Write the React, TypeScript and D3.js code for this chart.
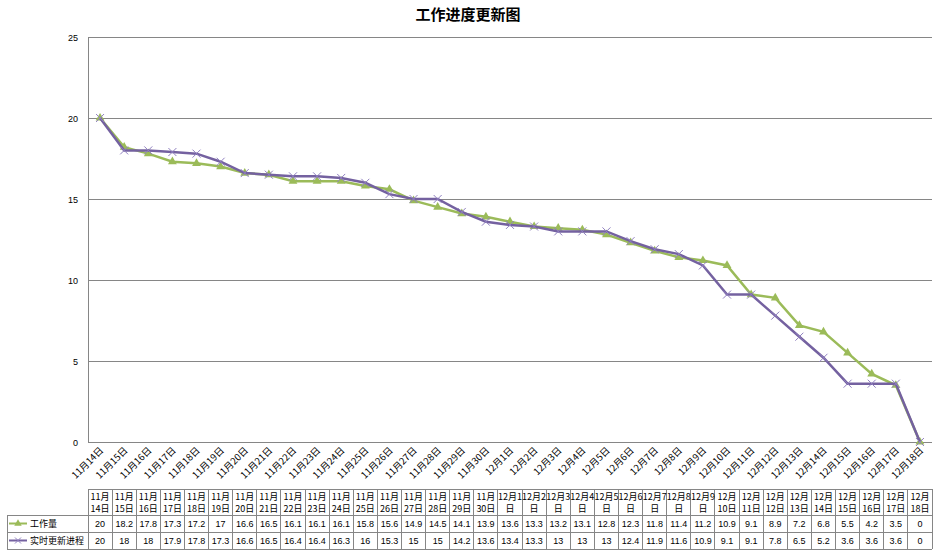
import React from "react";
import * as d3 from "d3";

// categories (axis labels)
const categories = [
  "11月14日", "11月15日", "11月16日", "11月17日", "11月18日", "11月19日", "11月20日",
  "11月21日", "11月22日", "11月23日", "11月24日", "11月25日", "11月26日", "11月27日",
  "11月28日", "11月29日", "11月30日", "12月1日", "12月2日", "12月3日", "12月4日",
  "12月5日", "12月6日", "12月7日", "12月8日", "12月9日", "12月10日", "12月11日",
  "12月12日", "12月13日", "12月14日", "12月15日", "12月16日", "12月17日", "12月18日",
];

// 工作量
const workload = [
  20, 18.2, 17.8, 17.3, 17.2, 17, 16.6, 16.5, 16.1, 16.1, 16.1, 15.8, 15.6, 14.9, 14.5,
  14.1, 13.9, 13.6, 13.3, 13.2, 13.1, 12.8, 12.3, 11.8, 11.4, 11.2, 10.9, 9.1, 8.9, 7.2,
  6.8, 5.5, 4.2, 3.5, 0,
];

// 实时更新进程
const actual = [
  20, 18, 18, 17.9, 17.8, 17.3, 16.6, 16.5, 16.4, 16.4, 16.3, 16, 15.3, 15, 15, 14.2,
  13.6, 13.4, 13.3, 13, 13, 13, 12.4, 11.9, 11.6, 10.9, 9.1, 9.1, 7.8, 6.5, 5.2, 3.6,
  3.6, 3.6, 0,
];

const yTicks = [0, 5, 10, 15, 20, 25];

const seriesNames = ["工作量", "实时更新进程"];

const WIDTH = 937;
const HEIGHT = 554;
const GREEN = "#9BBB59";
const PURPLE = "#7461A0";
const CROSS = "#9080c0";
const GRID = "#868686";
const CJK = "'Noto Sans CJK SC', 'Liberation Sans', sans-serif";
const NUM = "'Liberation Sans', Arial, sans-serif";

const plot = { left: 88, right: 932, top: 37, bottom: 442 };
const table = { headTop: 489, row1: 515, row2: 532, bottom: 549, legendLeft: 7 };

// Excel wraps the header text by column width
const wrapHeader = (s: string): [string, string] =>
  s.length === 5 ? [s.slice(0, 4), s.slice(4)] : [s.slice(0, 3), s.slice(3)];

const App: React.FC = () => {
  const x = d3
    .scaleBand<string>()
    .domain(categories)
    .range([plot.left, plot.right])
    .padding(0);
  const y = d3.scaleLinear().domain([0, 25]).range([plot.bottom, plot.top]);
  const bw = x.bandwidth();
  const cx = (c: string) => (x(c) ?? 0) + bw / 2;

  const line = d3
    .line<number>()
    .x((_, i) => cx(categories[i]))
    .y((d) => y(d));

  const tri = d3.symbol(d3.symbolTriangle, 34)() ?? "";
  const triSmall = d3.symbol(d3.symbolTriangle, 24)() ?? "";

  const legendMarker = (k: number, yc: number) => {
    const color = k === 0 ? GREEN : PURPLE;
    return (
      <g>
        <line x1={9} x2={27} y1={yc} y2={yc} stroke={color} strokeWidth={2} />
        {k === 0 ? (
          <path d={triSmall} transform={`translate(18,${yc})`} fill={GREEN} />
        ) : (
          <g transform={`translate(18,${yc})`} stroke={CROSS} strokeWidth={1}>
            <line x1={-3} y1={-3} x2={3} y2={3} />
            <line x1={-3} y1={3} x2={3} y2={-3} />
          </g>
        )}
        <text x={30} y={yc + 3.5} fontSize={9} fontFamily={CJK} fill="#000">
          {seriesNames[k]}
        </text>
      </g>
    );
  };

  return (
    <div style={{ position: "fixed", left: 0, top: 0 }}>
      <svg width={WIDTH} height={HEIGHT} style={{ display: "block", background: "#fff" }}>
        {/* title */}
        <text
          x={468}
          y={20}
          textAnchor="middle"
          fontSize={15}
          fontWeight="bold"
          fontFamily={CJK}
          fill="#000"
        >
          工作进度更新图
        </text>

        {/* gridlines and y labels */}
        {yTicks.map((t) => (
          <g key={t}>
            <line
              x1={plot.left}
              x2={plot.right}
              y1={y(t)}
              y2={y(t)}
              stroke={GRID}
              strokeWidth={1}
              shapeRendering="crispEdges"
            />
            <text
              x={78}
              y={y(t) + 3.5}
              textAnchor="end"
              fontSize={9}
              fontFamily={NUM}
              fill="#000"
            >
              {t}
            </text>
          </g>
        ))}
        <line
          x1={plot.left}
          x2={plot.left}
          y1={plot.top}
          y2={plot.bottom}
          stroke={GRID}
          shapeRendering="crispEdges"
        />

        {/* rotated category labels */}
        {categories.map((c) => (
          <text
            key={c}
            transform={`translate(${cx(c) + 4},${plot.bottom + 9}) rotate(-45)`}
            textAnchor="end"
            fontSize={9.5}
            fontFamily={CJK}
            fill="#000"
          >
            {c}
          </text>
        ))}

        {/* series lines */}
        <path d={line(workload) ?? ""} fill="none" stroke={GREEN} strokeWidth={2.5} />
        {workload.map((v, i) => (
          <path
            key={`w${i}`}
            d={tri}
            transform={`translate(${cx(categories[i])},${y(v)})`}
            fill={GREEN}
          />
        ))}
        <path d={line(actual) ?? ""} fill="none" stroke={PURPLE} strokeWidth={2.5} />
        {actual.map((v, i) => (
          <g
            key={`a${i}`}
            transform={`translate(${cx(categories[i])},${y(v)})`}
            stroke={CROSS}
            strokeWidth={1}
          >
            <line x1={-4} y1={-4} x2={4} y2={4} />
            <line x1={-4} y1={4} x2={4} y2={-4} />
          </g>
        ))}

        {/* data table */}
        <g stroke={GRID} strokeWidth={1} shapeRendering="crispEdges">
          <line x1={plot.left} x2={plot.right} y1={table.headTop} y2={table.headTop} />
          <line x1={table.legendLeft} x2={plot.right} y1={table.row1} y2={table.row1} />
          <line x1={table.legendLeft} x2={plot.right} y1={table.row2} y2={table.row2} />
          <line x1={table.legendLeft} x2={plot.right} y1={table.bottom} y2={table.bottom} />
          <line
            x1={table.legendLeft}
            x2={table.legendLeft}
            y1={table.row1}
            y2={table.bottom}
          />
          {categories.map((c) => (
            <line
              key={c}
              x1={x(c) ?? 0}
              x2={x(c) ?? 0}
              y1={table.headTop}
              y2={table.bottom}
            />
          ))}
          <line
            x1={plot.right}
            x2={plot.right}
            y1={table.headTop}
            y2={table.bottom}
          />
        </g>
        {categories.map((c) => {
          const [a, b] = wrapHeader(c);
          return (
            <text
              key={c}
              textAnchor="middle"
              fontSize={9}
              fontFamily={CJK}
              fill="#000"
            >
              <tspan x={cx(c)} y={table.headTop + 11}>
                {a}
              </tspan>
              <tspan x={cx(c)} y={table.headTop + 23}>
                {b}
              </tspan>
            </text>
          );
        })}
        {[workload, actual].map((vals, k) =>
          vals.map((v, i) => (
            <text
              key={`${k}-${i}`}
              x={cx(categories[i])}
              y={(k === 0 ? table.row1 : table.row2) + 12}
              textAnchor="middle"
              fontSize={9}
              fontFamily={NUM}
              fill="#000"
            >
              {v}
            </text>
          ))
        )}
        {legendMarker(0, (table.row1 + table.row2) / 2)}
        {legendMarker(1, (table.row2 + table.bottom) / 2)}
      </svg>
    </div>
  );
};

export default App;
